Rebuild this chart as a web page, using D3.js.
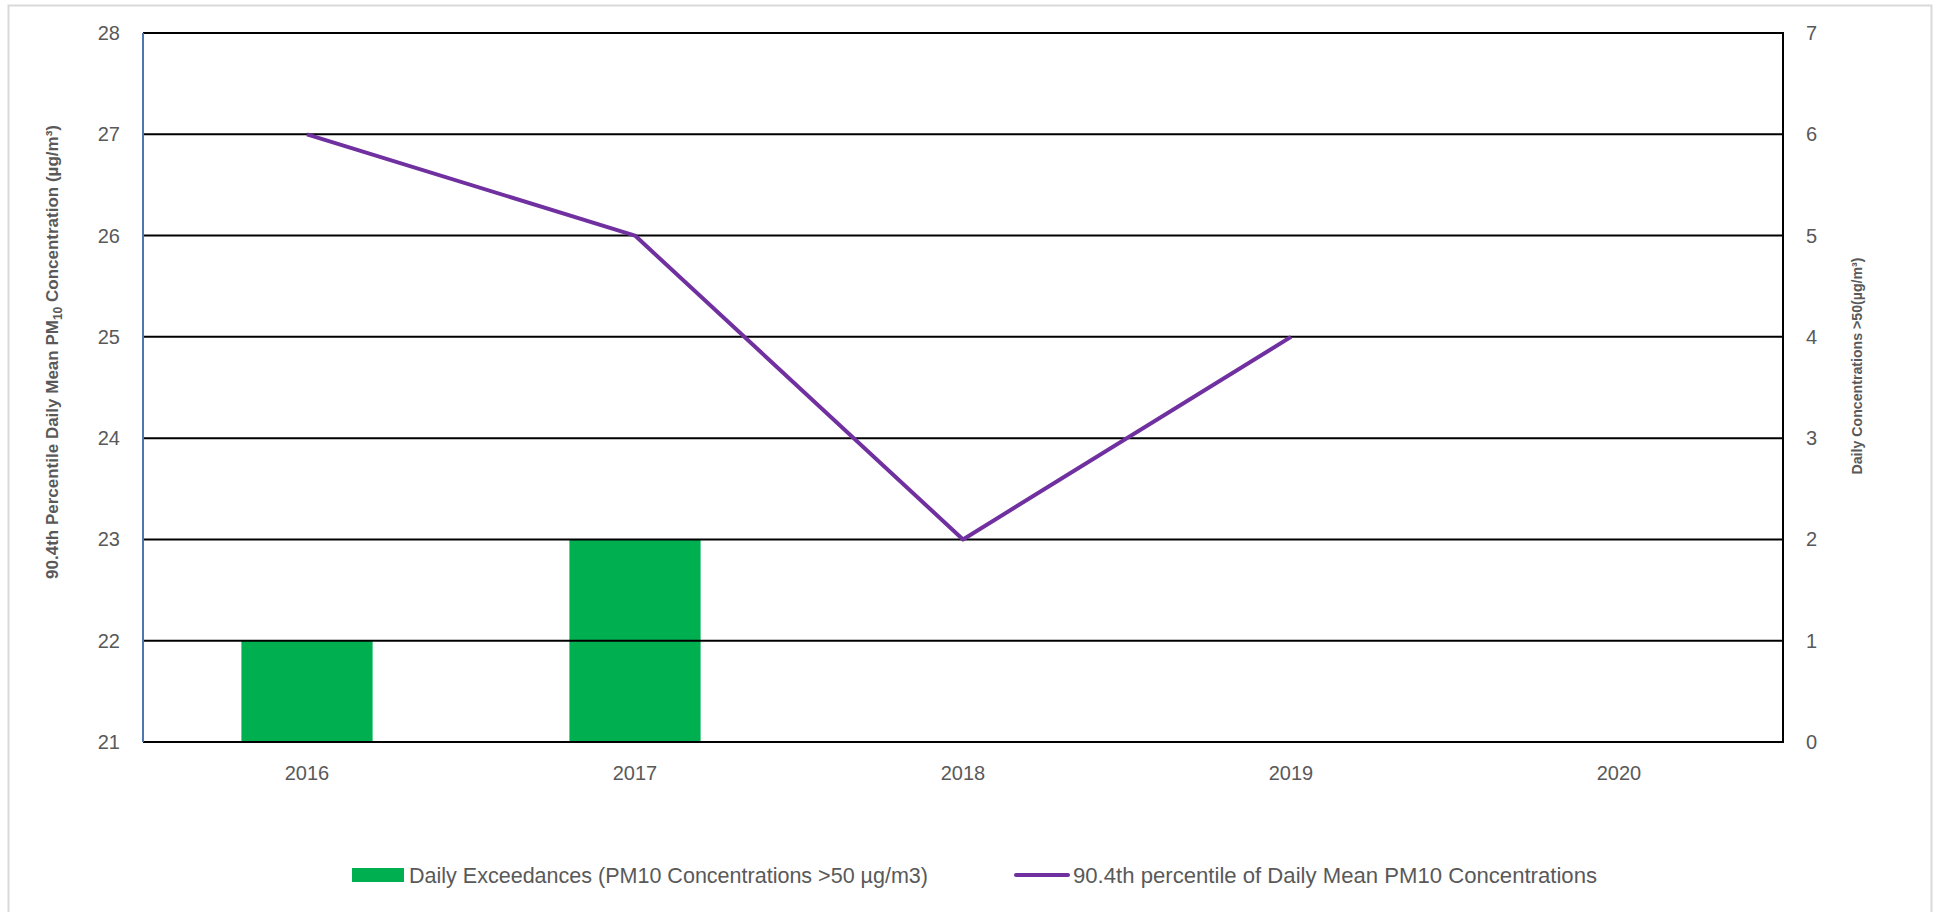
<!DOCTYPE html>
<html>
<head>
<meta charset="utf-8">
<script src="https://cdn.jsdelivr.net/npm/d3@7"></script>
<style>
  html, body { margin: 0; padding: 0; background: #fff; }
  svg text { font-family: "Liberation Sans", Arial, sans-serif; fill: #595959; }
</style>
</head>
<body>
<svg id="chart" width="1935" height="912"></svg>
<script>
// chart data
var years = ["2016", "2017", "2018", "2019", "2020"];
var exceedances = [1, 2, 0, 0, 0];
var percentile904 = [27, 26, 23, 25, null];
var leftTicks = [21, 22, 23, 24, 25, 26, 27, 28];
var rightTicks = [0, 1, 2, 3, 4, 5, 6, 7];
var legendLabels = [
    "Daily Exceedances (PM10 Concentrations >50 \u00b5g/m3)",
    "90.4th percentile of Daily Mean PM10 Concentrations"
];

var svg = d3.select("#chart");
var plot = { left: 143, right: 1783, top: 33, bottom: 742 };

// outer frame
svg.append("rect")
    .attr("x", 8.5).attr("y", 5.5)
    .attr("width", 1923).attr("height", 920)
    .attr("fill", "none")
    .attr("stroke", "#d9d9d9")
    .attr("stroke-width", 2);

var x = d3.scaleBand().domain(years).range([plot.left, plot.right]);
var yLeft = d3.scaleLinear().domain([21, 28]).range([plot.bottom, plot.top]);
var yRight = d3.scaleLinear().domain([0, 7]).range([plot.bottom, plot.top]);
var barW = x.bandwidth() * 0.4;

// bars (right axis)
svg.append("g").selectAll("rect")
    .data(years.map(function (y, i) { return { year: y, v: exceedances[i] }; }))
    .join("rect")
    .attr("x", function (d) { return x(d.year) + (x.bandwidth() - barW) / 2; })
    .attr("y", function (d) { return yRight(d.v); })
    .attr("width", barW)
    .attr("height", function (d) { return yRight(0) - yRight(d.v); })
    .attr("fill", "#00b050");

// gridlines
svg.append("g").selectAll("line")
    .data(leftTicks)
    .join("line")
    .attr("x1", plot.left).attr("x2", plot.right)
    .attr("y1", function (d) { return yLeft(d); })
    .attr("y2", function (d) { return yLeft(d); })
    .attr("stroke", "#000")
    .attr("stroke-width", 2);

// right frame line
svg.append("line")
    .attr("x1", plot.right).attr("x2", plot.right)
    .attr("y1", plot.top - 1).attr("y2", plot.bottom + 1)
    .attr("stroke", "#000").attr("stroke-width", 2);

// left axis line (blue)
svg.append("line")
    .attr("x1", plot.left).attr("x2", plot.left)
    .attr("y1", plot.top).attr("y2", plot.bottom)
    .attr("stroke", "#4f76ad").attr("stroke-width", 2);

// left tick labels
svg.append("g").selectAll("text")
    .data(leftTicks)
    .join("text")
    .attr("x", 120)
    .attr("y", function (d) { return yLeft(d); })
    .attr("dy", "0.35em")
    .attr("text-anchor", "end")
    .style("font-size", "20px")
    .text(function (d) { return d; });

// right tick labels
svg.append("g").selectAll("text")
    .data(rightTicks)
    .join("text")
    .attr("x", 1806)
    .attr("y", function (d) { return yRight(d); })
    .attr("dy", "0.35em")
    .style("font-size", "20px")
    .text(function (d) { return d; });

// x labels
svg.append("g").selectAll("text")
    .data(years)
    .join("text")
    .attr("x", function (d) { return x(d) + x.bandwidth() / 2; })
    .attr("y", 773)
    .attr("dy", "0.35em")
    .attr("text-anchor", "middle")
    .style("font-size", "20px")
    .text(function (d) { return d; });

// percentile line (left axis)
var line = d3.line()
    .defined(function (d) { return d.v != null; })
    .x(function (d) { return x(d.year) + x.bandwidth() / 2; })
    .y(function (d) { return yLeft(d.v); });

svg.append("path")
    .datum(years.map(function (y, i) { return { year: y, v: percentile904[i] }; }))
    .attr("d", line)
    .attr("fill", "none")
    .attr("stroke", "#7030a0")
    .attr("stroke-width", 4)
    .attr("stroke-linejoin", "round");

// axis titles
var lt = svg.append("text")
    .attr("transform", "translate(58,352) rotate(-90)")
    .attr("text-anchor", "middle")
    .style("font-size", "17px")
    .style("font-weight", "bold");
lt.append("tspan").text("90.4th Percentile Daily Mean PM");
lt.append("tspan").attr("dy", 4).style("font-size", "12px").text("10");
lt.append("tspan").attr("dy", -4).text(" Concentration (\u00b5g/m\u00b3)");

svg.append("text")
    .attr("transform", "translate(1862,366) rotate(-90)")
    .attr("text-anchor", "middle")
    .attr("textLength", 217)
    .attr("lengthAdjust", "spacingAndGlyphs")
    .style("font-size", "14.5px")
    .style("font-weight", "bold")
    .text("Daily Concentrations >50(\u00b5g/m\u00b3)");

// legend
var leg = svg.append("g");
leg.append("rect")
    .attr("x", 352).attr("y", 868)
    .attr("width", 52).attr("height", 14)
    .attr("fill", "#00b050");
leg.append("text")
    .attr("x", 409).attr("y", 875)
    .attr("dy", "0.35em")
    .attr("textLength", 519)
    .attr("lengthAdjust", "spacingAndGlyphs")
    .style("font-size", "22px")
    .text(legendLabels[0]);
leg.append("line")
    .attr("x1", 1016).attr("x2", 1068)
    .attr("y1", 875).attr("y2", 875)
    .attr("stroke", "#7030a0")
    .attr("stroke-width", 4)
    .attr("stroke-linecap", "round");
leg.append("text")
    .attr("x", 1073).attr("y", 875)
    .attr("dy", "0.35em")
    .attr("textLength", 524)
    .attr("lengthAdjust", "spacingAndGlyphs")
    .style("font-size", "22px")
    .text(legendLabels[1]);
</script>
</body>
</html>
